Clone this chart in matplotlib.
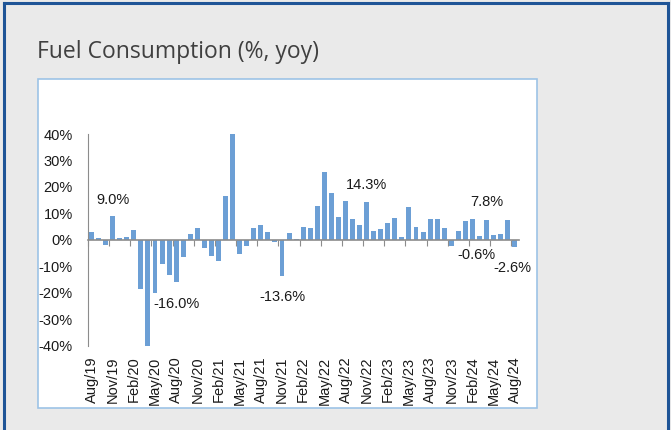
import matplotlib
matplotlib.use("Agg")
import matplotlib.pyplot as plt
from matplotlib.patches import Rectangle
from matplotlib.lines import Line2D

# monthly yoy change, Aug/19 .. Aug/24
values = [
    3.0, 0.5, -2.0, 9.0, 0.7, 1.1, 3.8, -18.7, -40.5, -20.0, -9.2, -13.4,
    -16.0, -6.7, 2.0, 4.3, -3.2, -6.0, -8.0, 16.6, 40.0, -5.4, -2.4, 4.6,
    5.6, 2.8, -0.8, -13.6, 2.5, 0.4, 4.8, 4.4, 12.8, 25.8, 17.8, 8.5,
    14.8, 7.8, 5.6, 14.3, 3.2, 4.0, 6.5, 8.4, 1.1, 12.4, 4.9, 2.9,
    7.8, 7.7, 4.4, -2.3, 3.4, 7.0, 7.8, 1.4, 7.5, 1.8, 2.0, 7.3, -2.6,
]
tick_labels = [
    "Aug/19", "Nov/19", "Feb/20", "May/20", "Aug/20", "Nov/20", "Feb/21",
    "May/21", "Aug/21", "Nov/21", "Feb/22", "May/22", "Aug/22", "Nov/22",
    "Feb/23", "May/23", "Aug/23", "Nov/23", "Feb/24", "May/24", "Aug/24",
]
notes = ["9.0%", "-16.0%", "-13.6%", "14.3%", "7.8%", "-0.6%", "-2.6%"]

BAR = "#6C9FD5"
DARK = "#1A1A1A"
BG = "#EAEAEA"

plt.rcParams["font.family"] = "Liberation Sans"

W, H = 671, 430
fig = plt.figure(figsize=(W / 100, H / 100), dpi=100, facecolor=BG)

# outer frame (top, left, right)
for xs, ys in (((4, 668), (3, 3)), ((4, 4), (3, 430)), ((668, 668), (3, 430))):
    fig.add_artist(Line2D([x / W for x in xs], [1 - y / H for y in ys],
                          color="#1F5597", lw=2.2, transform=fig.transFigure))

# white chart box
fig.add_artist(Rectangle((37.5 / W, 1 - 408 / H), 499.5 / W, 329 / H,
                         transform=fig.transFigure, facecolor="white",
                         edgecolor="#9DC3E6", lw=1.2, zorder=0))

fig.text(37 / W, 1 - 52 / H, "Fuel Consumption (%, yoy)", fontsize=16.5,
         family="Open Sans", color="#404040", va="center", ha="left")

ax = fig.add_axes([88 / W, 1 - 345.5 / H, 431 / W, 211.5 / H])
ax.set_facecolor("none")
x = list(range(len(values)))
ax.bar(x, values, width=0.7, color=BAR, zorder=2)
ax.set_xlim(-0.5, 60.6)
ax.set_ylim(-40, 40)

ax.set_yticks(range(-40, 41, 10))
ax.set_yticklabels([f"{v}%" for v in range(-40, 41, 10)])
ax.tick_params(axis="y", length=0, pad=11, labelsize=10.5, labelcolor=DARK)

for s in ("top", "right"):
    ax.spines[s].set_visible(False)
ax.spines["left"].set_color("#8C8C8C")
ax.spines["bottom"].set_position(("data", 0))
ax.spines["bottom"].set_color("#8C8C8C")
ax.spines["bottom"].set_linewidth(1.2)
ax.set_xticks([i - 0.5 for i in range(0, 61, 3)])
ax.tick_params(axis="x", length=4, direction="out", color="#8C8C8C",
               labelbottom=False)

sec = ax.secondary_xaxis("bottom")
sec.set_xticks(range(0, 61, 3))
sec.set_xticklabels(tick_labels, rotation=90)
sec.tick_params(length=0, pad=8, labelsize=10.5, labelcolor=DARK)
sec.spines["bottom"].set_visible(False)

# data labels
note_pos = [(3, 15.2), (12, -24.2), (27, -21.5), (39, 20.8),
            (56.1, 14.4), (54.5, -5.7), (59.6, -10.5)]
for (px, py), t in zip(note_pos, notes):
    ax.text(px, py, t, ha="center", va="center", fontsize=10.5, color=DARK)

fig.savefig("out.png", dpi=100, facecolor=BG)
